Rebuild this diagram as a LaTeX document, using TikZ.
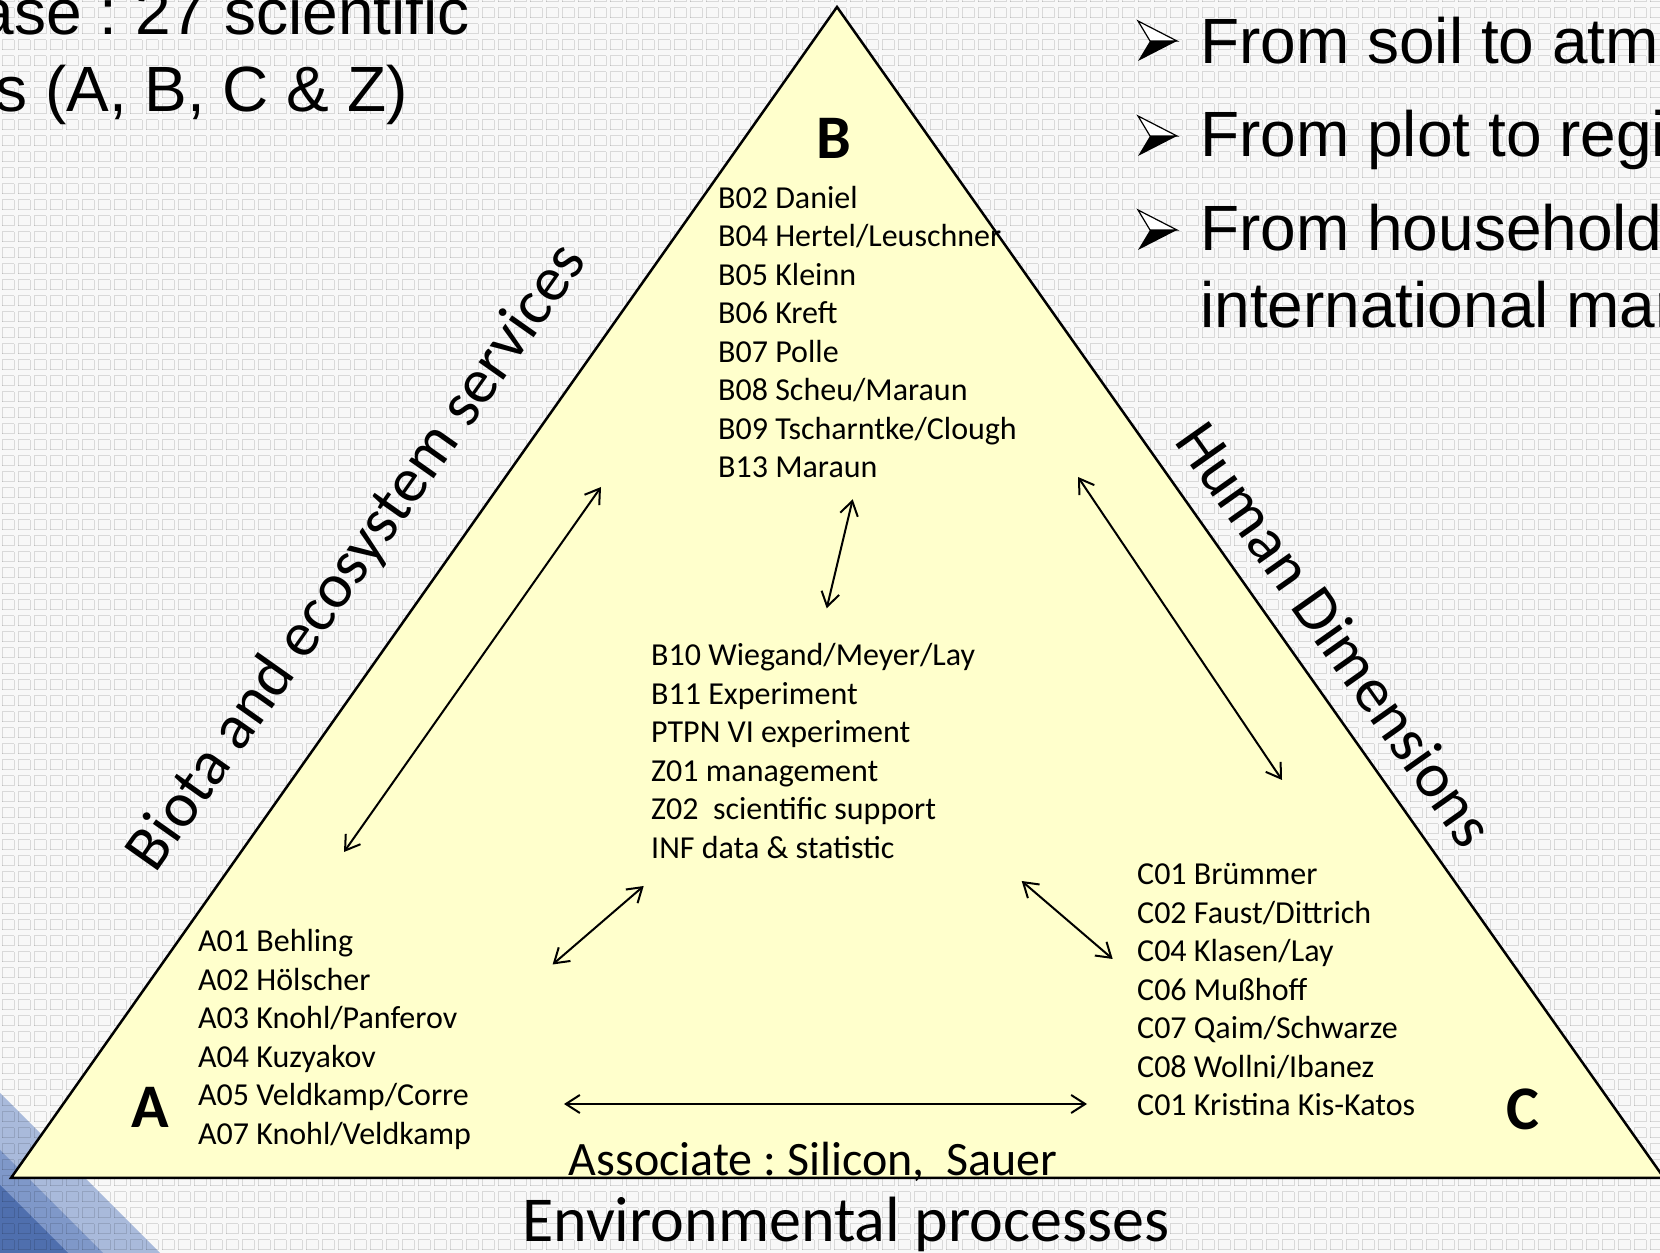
\documentclass[tikz,border=0pt]{standalone}
\usepackage{fontspec}
\setmainfont{Carlito}
\newfontfamily\arialfont{Liberation Sans}
\usetikzlibrary{arrows.meta}
\definecolor{tri}{HTML}{FFFFCC}
\definecolor{bgc}{HTML}{F8F8F8}
\definecolor{blueA}{HTML}{A9BADB}
\definecolor{blueB}{HTML}{7F98C9}
\definecolor{blueC}{HTML}{4F6FAE}
\frenchspacing
\begin{document}
\begin{tikzpicture}[x=1pt,y=1pt,
  link/.style={{Straight Barb[length=14pt,width=18pt]}-{Straight Barb[length=14pt,width=18pt]}, line width=2pt},
  list/.style={inner sep=0pt, anchor=base west, font=\fontsize{32}{38.5}\selectfont},
  big/.style={inner sep=0pt, font=\fontsize{63.5}{75}\selectfont},
  letter/.style={inner sep=0pt, anchor=base, font=\fontsize{62}{70}\selectfont\bfseries},
  slide/.style={inner sep=0pt, anchor=base west, font=\arialfont\fontsize{64}{76}\selectfont},
  hpat/.style={black, opacity=0.12, line width=1pt, dash pattern=on 12pt off 4pt},
  vpat/.style={black, opacity=0.12, line width=1pt, dash pattern=on 10pt off 6pt}
]
\useasboundingbox (0,0) rectangle (1660,1253);
\clip (0,0) rectangle (1660,1253);
\fill[bgc] (0,0) rectangle (1660,1253);
% blue bands
\fill[blueA] (0,160) -- (160,0) -- (0,0) -- cycle;
\fill[blueB] (0,103) -- (103,0) -- (0,0) -- cycle;
\fill[blueC] (0,68) -- (68,0) -- (0,0) -- cycle;
% background pattern
\foreach \j in {0,...,78}{
  \draw[hpat] (2,\j*16+3) -- (1664,\j*16+3);
  \draw[hpat] (2,\j*16+13) -- (1664,\j*16+13);
}
\foreach \i in {0,...,104}{
  \draw[vpat] (\i*16+2,3) -- (\i*16+2,1262);
  \draw[vpat] (\i*16+14,3) -- (\i*16+14,1262);
}
% triangle
\coordinate (cA) at (11,75);
\coordinate (cB) at (837,1246);
\coordinate (cC) at (1664,75);
\draw[line width=2.5pt, fill=tri, line join=miter] (cA) -- (cB) -- (cC) -- cycle;

% slide texts
\node[inner sep=0pt, anchor=base east, font=\arialfont\fontsize{64}{76}\selectfont] (tl1) at (470,1218) {ase : 27 scientific};
\node[inner sep=0pt, anchor=base east, font=\arialfont\fontsize{64}{76}\selectfont] (tl2) at (408,1141) {s (A, B, C \& Z)};

\foreach \c in {1212,1117,1023}{
  \fill[black] (1150,\c) -- (1177,\c) -- (1138,\c-20) -- cycle;
  \draw[line width=1.2pt, fill=white, line join=miter] (1138,\c+20) -- (1177,\c) -- (1150,\c) -- cycle;
}
\node[slide] (tr1) at (1200,1189.5) {From soil to atmo};
\node[slide] (tr2) at (1200,1096) {From plot to regio};
\node[slide] (tr3) at (1200,1002) {From household};
\node[slide] (tr4) at (1200,925) {international mar};

% corner letters
\node[letter] (lB) at (834,1094) {B};
\node[letter] (lA) at (150,125.5) {A};
\node[letter] (lC) at (1523,123) {C};

% lists
\node[list] (blist) at (718,1044.5) {\begin{tabular}[t]{@{}l@{}}B02 Daniel\\ B04 Hertel/Leuschner\\ B05 Kleinn\\ B06 Kreft\\ B07 Polle\\ B08 Scheu/Maraun\\ B09 Tscharntke/Clough\\ B13 Maraun\end{tabular}};
\node[list] (zlist) at (651,587) {\begin{tabular}[t]{@{}l@{}}B10 Wiegand/Meyer/Lay\\ B11 Experiment\\ PTPN VI experiment\\ Z01 management\\ Z02~ scientific support\\ INF data \& statistic\end{tabular}};
\node[list] (alist) at (198,301.2) {\begin{tabular}[t]{@{}l@{}}A01 Behling\\ A02 Hölscher\\ A03 Knohl/Panferov\\ A04 Kuzyakov\\ A05 Veldkamp/Corre\\ A07 Knohl/Veldkamp\end{tabular}};
\node[list] (clist) at (1137,368) {\begin{tabular}[t]{@{}l@{}}C01 Brümmer\\ C02 Faust/Dittrich\\ C04 Klasen/Lay\\ C06 Mußhoff\\ C07 Qaim/Schwarze\\ C08 Wollni/Ibanez\\ C01 Kristina Kis-Katos\end{tabular}};

\node[inner sep=0pt, anchor=base west, font=\fontsize{48}{56}\selectfont] (assoc) at (568.5,77) {Associate : Silicon,~ Sauer};
\node[inner sep=0pt, anchor=base west, font=\fontsize{64}{76}\selectfont] (env) at (522,12) {Environmental processes};
\node[big, rotate=54.8] (biota) at (358,695) {Biota and ecosystem services};
\node[big, rotate=-54.8] (human) at (1336,619) {Human Dimensions};

% connectors
\coordinate (a1s) at (344,401);   \coordinate (a1e) at (601,766);
\coordinate (a2s) at (826.7,644.7); \coordinate (a2e) at (852.7,753.7);
\coordinate (a3s) at (1078,776);  \coordinate (a3e) at (1282,473);
\coordinate (a4s) at (552.6,288.5); \coordinate (a4e) at (643.7,367);
\coordinate (a5s) at (1021.7,372); \coordinate (a5e) at (1112.7,294);
\coordinate (a6s) at (564,149);   \coordinate (a6e) at (1087,149);
\draw[link] (a1s) -- (a1e);
\draw[link] (a2s) -- (a2e);
\draw[link] (a3s) -- (a3e);
\draw[link] (a4s) -- (a4e);
\draw[link] (a5s) -- (a5e);
\draw[link] (a6s) -- (a6e);
\end{tikzpicture}
\end{document}
